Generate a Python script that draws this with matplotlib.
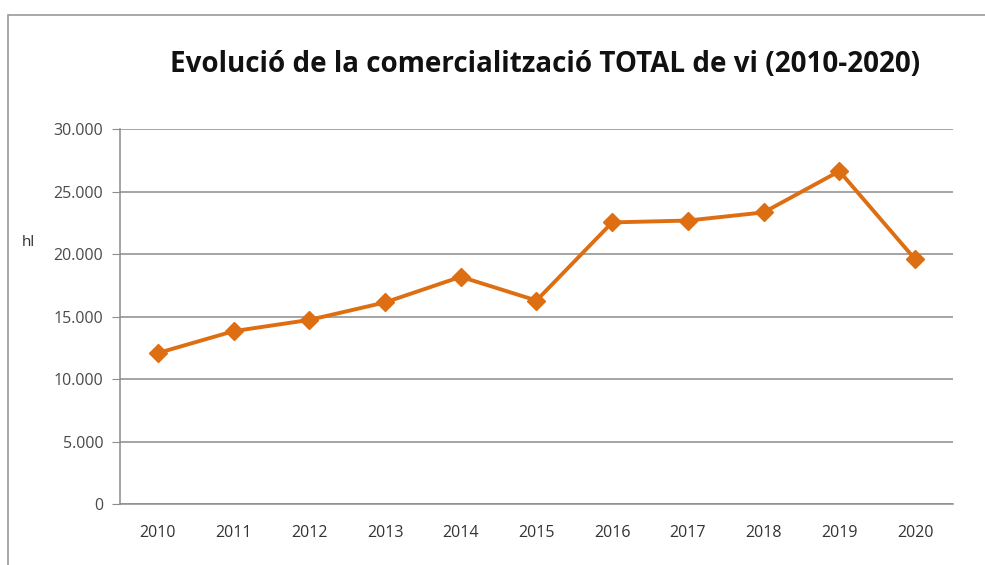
import matplotlib
matplotlib.use("Agg")
import matplotlib.pyplot as plt
from matplotlib.patches import Rectangle
from matplotlib.ticker import FuncFormatter

years = ['2010', '2011', '2012', '2013', '2014', '2015',
         '2016', '2017', '2018', '2019', '2020']
hl = [12100, 13850, 14750, 16150, 18200, 16300,
      22550, 22700, 23350, 26650, 19600]
y_ticks = [0, 5000, 10000, 15000, 20000, 25000, 30000]

orange = '#DE6E12'
grid_col = '#8C8C8C'

plt.rcParams['font.family'] = ['Open Sans', 'DejaVu Sans']

fig = plt.figure(figsize=(9.85, 5.65), dpi=100)
fig.patches.append(Rectangle((8 / 985, -0.1), 1.1, 1 - 15 / 565 + 0.1,
                             transform=fig.transFigure, fill=False,
                             edgecolor='#999999', linewidth=1.2))

ax = fig.add_axes([0.1218, 0.1074, 0.8457, 0.6638])
x = list(range(len(years)))
ax.plot(x, hl, color=orange, linewidth=2.8, marker='D', markersize=9,
        markerfacecolor=orange, markeredgecolor=orange, zorder=3)

ax.set_xlim(-0.5, len(years) - 0.5)
ax.set_ylim(0, 30000)
ax.set_yticks(y_ticks)
ax.yaxis.set_major_formatter(FuncFormatter(lambda v, p: f'{int(v):,}'.replace(',', '.')))
ax.set_xticks(x)
ax.set_xticklabels(years)
ax.grid(axis='y', color=grid_col, linewidth=1.1)
ax.set_axisbelow(True)

for s in ['top', 'right']:
    ax.spines[s].set_visible(False)
for s in ['left', 'bottom']:
    ax.spines[s].set_color(grid_col)
    ax.spines[s].set_linewidth(1.1)

ax.tick_params(axis='y', length=6, color=grid_col, labelsize=11.5,
               labelcolor='#4a4a4a', pad=6)
ax.tick_params(axis='x', length=0, labelsize=11.5, labelcolor='#333333', pad=15)

fig.text(28 / 985, 1 - 243 / 565, 'hl', fontsize=11, color='#303030',
         ha='center', va='center')
fig.text(545 / 985, 1 - 64 / 565,
         'Evolució de la comercialització TOTAL de vi (2010-2020)',
         fontsize=20, fontweight='bold', color='#111111',
         ha='center', va='center')

fig.savefig('out.png', dpi=100)
